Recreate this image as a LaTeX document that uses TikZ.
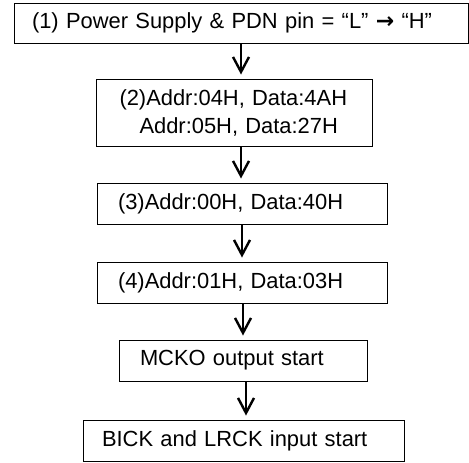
\documentclass[tikz,border=0pt]{standalone}
\usepackage{fontspec}
\setmainfont{Liberation Sans}
\newfontfamily\arrowfont{DejaVu Sans}
\usetikzlibrary{positioning,arrows.meta}

\begin{document}
\begin{tikzpicture}[x=0.5pt,y=-0.5pt,
	box/.style={draw,line width=0.5pt,align=left,inner ysep=0pt,font=\fontsize{10.95}{14}\selectfont},
	flow/.style={line width=1.1pt,-{Straight Barb[length=7.5pt,width=8pt,line width=1.2pt]},shorten >=2pt}]
			\useasboundingbox (0,0) rectangle (469,462);
			\node[box,text width=209pt,inner xsep=9pt,minimum height=20pt] (b1) at (241,23) {(1) Power Supply \& PDN pin = “L” {\arrowfont\bfseries\fontsize{11}{14}\selectfont →} “H”};
			\node[box,text width=115pt,inner xsep=11.5pt,minimum height=33.5pt] (b2) at (234.5,112.5) {\mbox{(2)Addr:04H, Data:4AH}\\\hspace*{10pt}\mbox{Addr:05H, Data:27H}};
			\node[box,text width=124pt,inner xsep=10.5pt,minimum height=20.5pt] (b3) at (242,203.5) {(3)Addr:00H, Data:40H};
			\node[box,text width=124pt,inner xsep=10.5pt,minimum height=20.5pt] (b4) at (242,282.5) {(4)Addr:01H, Data:03H};
			\node[box,text width=103pt,inner xsep=10.5pt,minimum height=20.5pt] (b5) at (243,360.5) {MCKO output start};
			\node[box,text width=141.5pt,inner xsep=9.5pt,minimum height=20.5pt] (b6) at (243.5,440.5) {BICK and LRCK input start};
% 			arrows between the steps
			\draw[flow] (b1.south) -- (b1.south |- b2.north);
			\draw[flow] (b2.south -| b1) -- (b1 |- b3.north);
			\draw[flow] (b3.south) -- (b4.north);
			\draw[flow] (b5.north |- b4.south) -- (b5.north);
			\draw[flow] ([xshift=1.5pt]b5.south) -- ([xshift=1.5pt]b5.south |- b6.north);
\end{tikzpicture}
\end{document}
